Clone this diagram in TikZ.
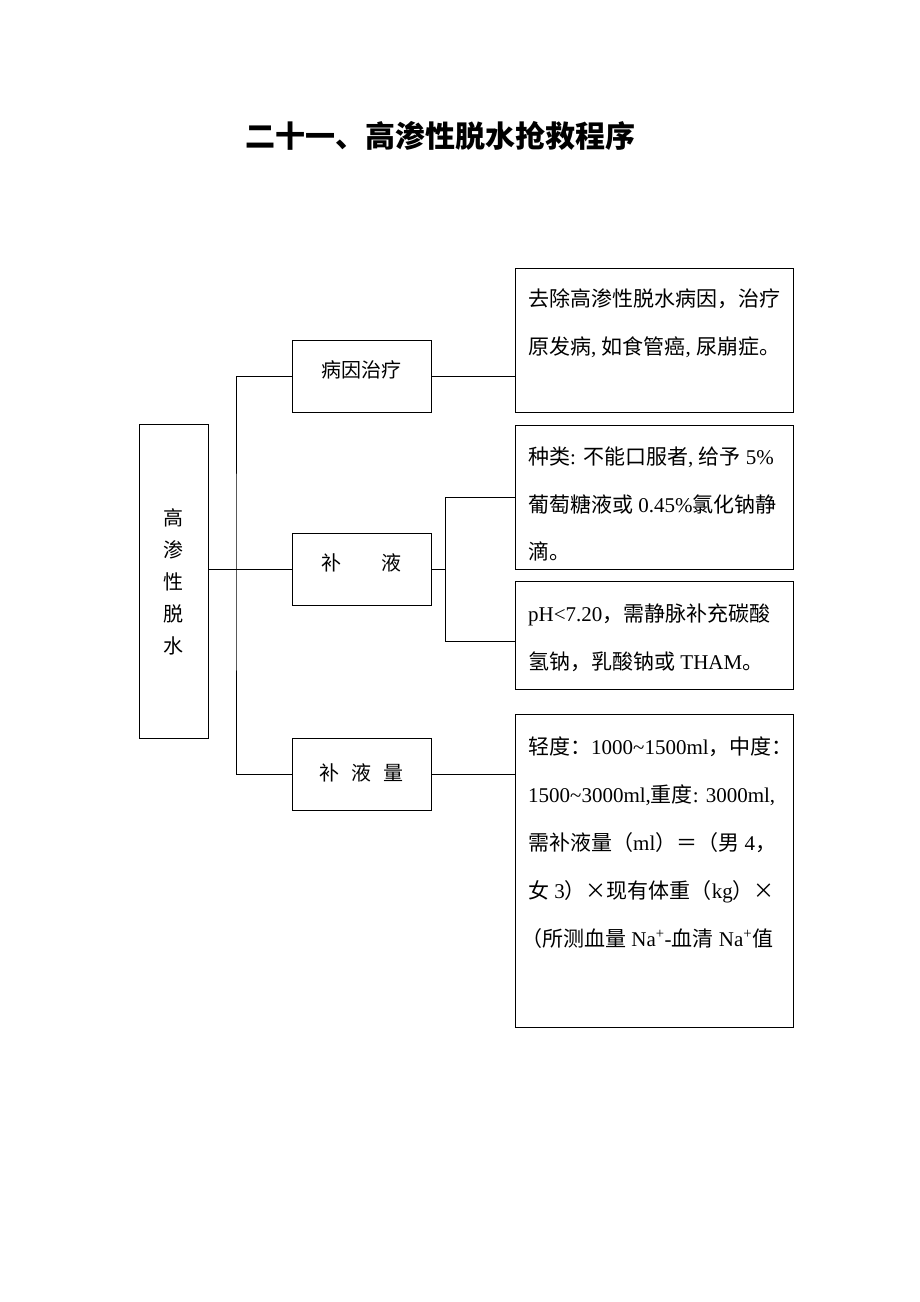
\documentclass[tikz,border=0pt]{standalone}
\usepackage{fontspec}
\setmainfont{Liberation Serif}
\newfontfamily\cjk{Noto Sans CJK SC}
\newcommand\zh[1]{{\cjk #1}}
\begin{document}
\begin{tikzpicture}[x=1pt,y=-1pt,
  box/.style={draw, line width=0.9pt, inner sep=0pt, outer sep=0pt},
  ln/.style={line width=0.9pt},
  txt/.style={anchor=base west, inner sep=0pt, font=\fontsize{21}{24}\selectfont},
  lbl/.style={anchor=base, inner sep=0pt, font=\fontsize{20}{24}\selectfont\cjk}]
\useasboundingbox (0,0) rectangle (920,1302);
\fill[white] (0,0) rectangle (920,1302);

% title
\node[anchor=base, inner sep=0pt, font=\fontsize{30}{34}\selectfont\cjk\bfseries] (title) at (440,147) {二十一、高渗性脱水抢救程序};

% left box
\node[box, minimum width=69pt, minimum height=314pt] (L) at (173.5,581) {};
\node[lbl, align=center, font=\fontsize{20}{32}\selectfont\cjk, anchor=center] (Lt) at (173.5,582) {高\\渗\\性\\脱\\水};

% middle boxes
\node[box, minimum width=139pt, minimum height=72pt] (B1) at (361.5,376) {};
\node[box, minimum width=139pt, minimum height=72pt] (B2) at (361.5,569) {};
\node[box, minimum width=139pt, minimum height=72pt] (B3) at (361.5,774) {};
\node[lbl] (B1t) at (361.5,377) {病因治疗};
\node[lbl] (B2t) at (361.5,570) {补\hspace{40pt}液};
\node[lbl] (B3t) at (361.5,780) {补\hspace{12pt}液\hspace{12pt}量};

% right boxes
\node[box, minimum width=278pt, minimum height=144pt] (R1) at (654,340) {};
\node[box, minimum width=278pt, minimum height=144pt] (R2) at (654,497) {};
\node[box, minimum width=278pt, minimum height=108pt] (R3) at (654,635) {};
\node[box, minimum width=278pt, minimum height=313pt] (R4) at (654,870.5) {};

% right box texts
\node[txt] (r1a) at (528,306) {\zh{去除高渗性脱水病因，治疗}};
\node[txt] (r1b) at (528,354) {\zh{原发病}, \zh{如食管癌}, \zh{尿崩症。}};

\node[txt] (r2a) at (528,464) {\zh{种类}: \zh{不能口服者}, \zh{给予} 5\%};
\node[txt] (r2b) at (528,512) {\zh{葡萄糖液或} 0.45\%\zh{氯化钠静}};
\node[txt] (r2c) at (528,559) {\zh{滴。}};

\node[txt] (r3a) at (528,621) {pH<7.20\zh{，需静脉补充碳酸}};
\node[txt] (r3b) at (528,669) {\zh{氢钠，乳酸钠或} THAM\zh{。}};

\node[txt] (r4a) at (528,754) {\zh{轻度：}1000\textasciitilde1500ml\zh{，中度：}};
\node[txt] (r4b) at (528,802) {1500\textasciitilde3000ml,\zh{重度}: 3000ml,};
\node[txt] (r4c) at (528,850) {\zh{需补液量（}ml\zh{）＝（男} 4\zh{，}};
\node[txt] (r4d) at (528,898) {\zh{女} 3\zh{）×现有体重（}kg\zh{）×}};
\node[txt] (r4e) at (521,946) {\zh{（所测血量} Na\textsuperscript{+}-\zh{血清} Na\textsuperscript{+}\zh{值}};

% connectors
\coordinate (tk) at (236,569);
\draw[ln] (B2.west -| L.east) -- (B2.west);
\draw[ln] (B1.west) -| (tk) |- (B3.west);
\draw[ln] (B1.east) -- (B1.east -| R1.west);
\coordinate (f1) at (445,569);
\coordinate (f2) at (445,641);
\draw[ln] (B2.east) -- (f1);
\draw[ln] (R2.west) -| (f2) -- (f2 -| R3.west);
\draw[ln] (B3.east) -- (B3.east -| R4.west);
\end{tikzpicture}
\end{document}
